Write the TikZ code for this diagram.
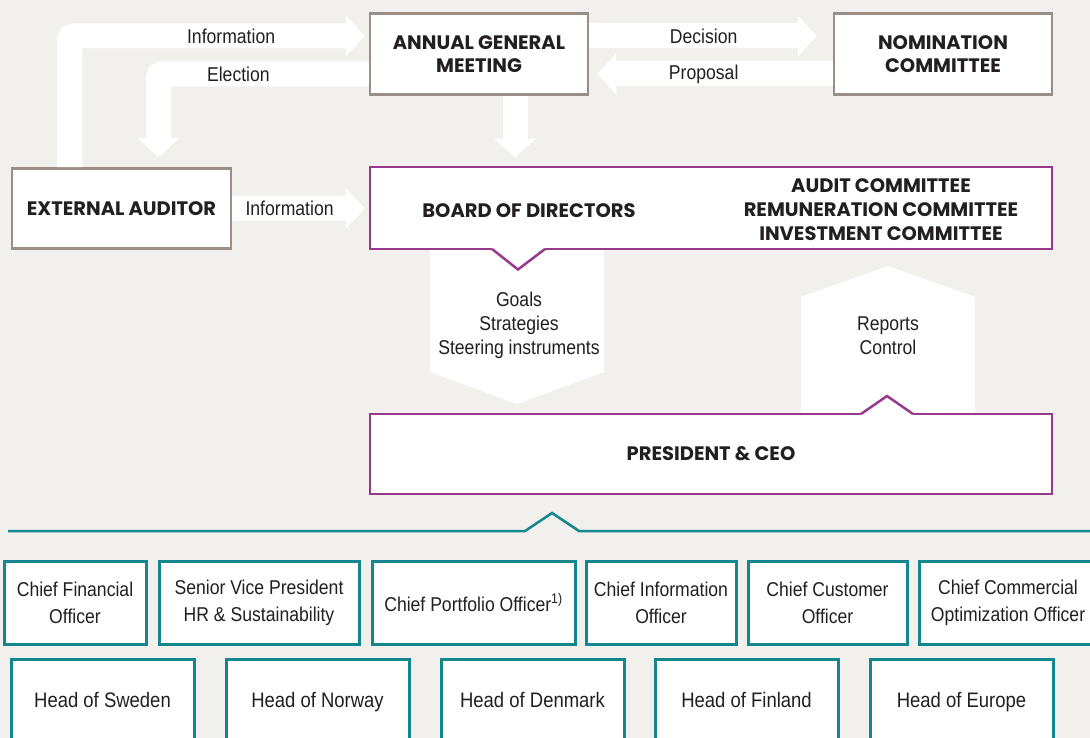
\documentclass[tikz,border=0pt]{standalone}
\usepackage{fontspec}
\setmainfont{Liberation Sans}[FakeStretch=0.88]
\newfontfamily\capsfont{Poppins}
\usetikzlibrary{arrows.meta}
\definecolor{paper}{RGB}{242,240,237}
\definecolor{stone}{RGB}{154,143,134}
\definecolor{plum}{RGB}{152,58,140}
\definecolor{petrol}{RGB}{20,135,142}
\definecolor{ink}{RGB}{35,31,32}
\newcommand{\Head}[1]{Head of #1}
\tikzset{
  caps/.style={font=\capsfont\bfseries\fontsize{19.5}{23.5}\selectfont, align=center, text=ink},
  plain/.style={font=\fontsize{20}{24}\selectfont, align=center, text=ink},
  stonebox/.style={caps, draw=stone, line width=2.5pt, fill=white, inner sep=0pt,
    minimum width=218pt, minimum height=81pt},
  plumbox/.style={draw=plum, line width=2.5pt, fill=white, inner sep=0pt,
    minimum width=682pt},
  officer/.style={plain, font=\fontsize{20}{27}\selectfont, draw=petrol, line width=3pt,
    fill=white, inner sep=0pt, minimum height=83pt},
  region/.style={officer, font=\fontsize{21}{25}\selectfont, minimum width=183pt,
    minimum height=82pt, text height=17pt, text depth=2.5pt},
  fat/.style={white, line width=25pt, rounded corners=4pt, -{Triangle[width=40pt,length=19pt]}},
}

\begin{document}
\begin{tikzpicture}[x=1pt,y=-1pt]

    \useasboundingbox (0,0) rectangle (1090,738);
    \fill[paper] (0,0) rectangle (1090,738);
    \clip (0,0) rectangle (1090,738);

    \draw(479,54) node[stonebox] (agm) {ANNUAL GENERAL\\MEETING};
    \draw(943,54) node[stonebox] (nom) {NOMINATION\\COMMITTEE};
    \draw(121.5,208.5) node[stonebox, minimum width=219pt, minimum height=80pt] (ea) {EXTERNAL AUDITOR};

    \fill[white] (430,249) -- (604,249) -- (604,372) -- (517,404) -- (430,372) -- cycle;
    \fill[white] (801,420) -- (801,297) -- (888,266) -- (975,297) -- (975,420) -- cycle;
    \draw(519,325) node[plain] (goals) {Goals\\Strategies\\Steering instruments};
    \draw(888,336) node[plain] (reports) {Reports\\Control};

    \draw(711,208) node[plumbox, minimum height=82pt] (board) {};
    \draw(529,211) node[caps] (bod) {BOARD OF DIRECTORS};
    \draw(881,210) node[caps, font=\capsfont\bfseries\fontsize{19.5}{24}\selectfont] (com)
        {AUDIT COMMITTEE\\REMUNERATION COMMITTEE\\INVESTMENT COMMITTEE};
    \fill[white] (491,247.5) -- (546,247.5) -- (518,270) -- cycle;
    \draw[plum, line width=2.5pt] (492,249) -- (518,269.5) -- (545,249);

    \draw(711,454) node[plumbox, minimum height=80pt, caps] (ceo) {PRESIDENT \& CEO};
    \fill[white] (860,415.5) -- (887,395) -- (914,415.5) -- cycle;
    \draw[plum, line width=2.5pt] (861,414) -- (887,396) -- (913,414);

    \draw[fat, shorten >=4pt] ([xshift=-52pt]ea.north) |- ([yshift=18pt]agm.west)
        node[plain, pos=0.77] (l1) {Information};
    \draw[fat, shorten >=10pt] ([yshift=-20pt]agm.west) -| ([xshift=37pt]ea.north)
        node[plain, pos=0.31] (l2) {Election};
    \draw[fat, shorten >=16pt] ([yshift=18pt]agm.east) -- ([yshift=18pt]nom.west)
        node[plain, pos=0.47] (l3) {Decision};
    \draw[fat, shorten >=8pt] ([yshift=-20pt]nom.west) -- ([yshift=-20pt]agm.east)
        node[plain, pos=0.53] (l4) {Proposal};
    \draw[fat, shorten >=8pt] ([xshift=36pt]agm.south) -- ([xshift=36pt]agm.south |- board.north);
    \draw[fat, shorten >=4pt] (ea.east) -- (ea.east -| board.west)
        node[plain, pos=0.42] (l5) {Information};

    \draw[petrol, line width=2.5pt] (8,531) -- (525,531) -- (552,513) -- (579,531) -- (1090,531);

    \draw(75,602.5) node[officer, minimum width=142pt] (cfo) {Chief Financial\\Officer};
    \draw(259,602.5) node[officer, minimum width=200pt] (svp) {Senior Vice President\\HR \& Sustainability};
    \draw(473.5,602.5) node[officer, minimum width=203pt] (cpo) {Chief Portfolio Officer\textsuperscript{1)}};
    \draw(661,602.5) node[officer, minimum width=150pt] (cio) {Chief Information\\Officer};
    \draw(827.5,602.5) node[officer, minimum width=159pt] (cco) {Chief Customer\\Officer};
    \draw(1008,602.5) node[officer, minimum width=178pt] (ccoo) {Chief Commercial\\Optimization Officer};

    \draw(102.5,700) node[region] (swe) {\Head{Sweden}};
    \draw(317.5,700) node[region] (nor) {\Head{Norway}};
    \draw(532.5,700) node[region] (den) {\Head{Denmark}};
    \draw(746.5,700) node[region] (fin) {\Head{Finland}};
    \draw(961.5,700) node[region] (eur) {\Head{Europe}};

\end{tikzpicture}
\end{document}
